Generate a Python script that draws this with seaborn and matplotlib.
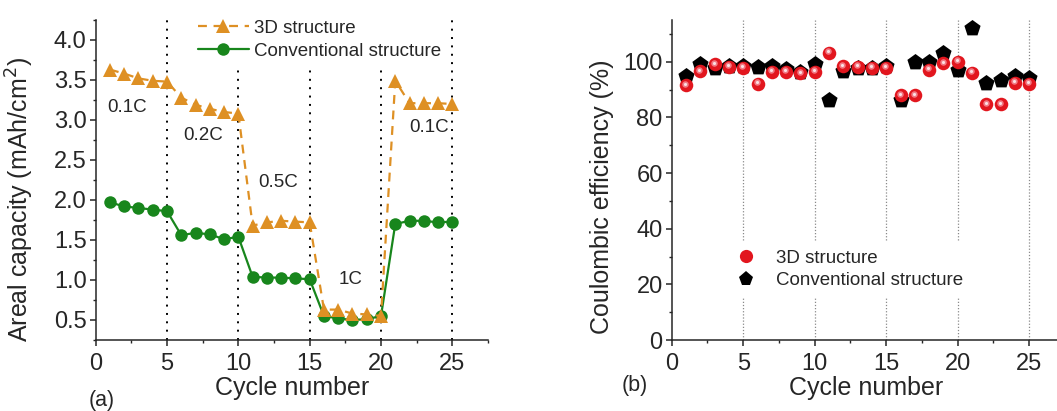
import numpy as np
import pandas as pd
import matplotlib
matplotlib.use("Agg")
import matplotlib.pyplot as plt
import matplotlib.transforms as mtransforms
from matplotlib.lines import Line2D
import seaborn as sns

# ---- data ----
cycles = [1, 2, 3, 4, 5, 6, 7, 8, 9, 10, 11, 12, 13, 14, 15,
          16, 17, 18, 19, 20, 21, 22, 23, 24, 25]

# areal capacity (mAh/cm^2)
cap_3d = [3.63, 3.58, 3.52, 3.49, 3.48, 3.28, 3.19, 3.14, 3.10, 3.08,
          1.68, 1.72, 1.74, 1.73, 1.72, 0.63, 0.63, 0.58, 0.57, 0.55,
          3.49, 3.21, 3.21, 3.21, 3.20]
cap_conv = [1.97, 1.92, 1.90, 1.88, 1.86, 1.56, 1.59, 1.57, 1.51, 1.54,
            1.04, 1.03, 1.03, 1.02, 1.01, 0.55, 0.52, 0.50, 0.51, 0.55,
            1.70, 1.74, 1.74, 1.72, 1.73]

# coulombic efficiency (%)
ce_3d = [91.5, 96.7, 99.2, 98.2, 97.9, 92.1, 96.4, 96.4, 95.8, 96.4,
         103.3, 98.5, 98.2, 97.9, 97.9, 87.9, 87.9, 97.2, 99.4, 100.0,
         96.0, 84.8, 84.8, 92.4, 92.1]
ce_conv = [94.8, 99.2, 97.9, 98.4, 98.4, 98.2, 98.5, 97.3, 96.4, 99.2,
           86.4, 96.7, 97.6, 97.8, 98.4, 86.4, 99.8, 99.8, 103.0, 97.2,
           112.1, 92.4, 93.3, 94.8, 94.3]

rate_labels = ["0.1C", "0.2C", "0.5C", "1C", "0.1C"]
rate_label_x = [2.2, 7.5, 12.8, 17.9, 23.4]
rate_label_y = [3.16, 2.80, 2.22, 1.00, 2.90]
rate_bounds = [5, 10, 15, 20, 25]

series_names = ["3D structure", "Conventional structure"]

df = pd.DataFrame({
    "cycle": cycles * 2,
    "capacity": cap_3d + cap_conv,
    "ce": ce_3d + ce_conv,
    "sample": [series_names[0]] * len(cycles) + [series_names[1]] * len(cycles),
})
d3 = df[df["sample"] == series_names[0]]
dc = df[df["sample"] == series_names[1]]

# ---- style ----
sns.set_style("ticks")
plt.rcParams["font.family"] = ["Liberation Sans", "DejaVu Sans"]
plt.rcParams["axes.linewidth"] = 1.1
plt.rcParams["xtick.major.width"] = 1.1
plt.rcParams["ytick.major.width"] = 1.1
plt.rcParams["xtick.minor.width"] = 1.0
plt.rcParams["ytick.minor.width"] = 1.0
plt.rcParams["xtick.major.size"] = 4
plt.rcParams["ytick.major.size"] = 4
plt.rcParams["xtick.minor.size"] = 2.5
plt.rcParams["ytick.minor.size"] = 2.5

ORANGE = "#DE9024"
GREEN = "#18861C"
RED = "#E2161E"

TICK_FS = 17
LABEL_FS = 18
LEG_FS = 13.5

W, H = 1057, 411
fig = plt.figure(figsize=(W / 100, H / 100), dpi=100)

def px_axes(x0, x1, y0, y1):
    return fig.add_axes([x0 / W, 1 - y1 / H, (x1 - x0) / W, (y1 - y0) / H])

# ================= (a) areal capacity =================
ax1 = px_axes(95.7, 488, 20, 340)
for xb in rate_bounds:
    ax1.axvline(xb, color="black", lw=1.4, ls=(0, (1, 3.3)), zorder=1)

sns.lineplot(data=dc, x="cycle", y="capacity", ax=ax1, color=GREEN, lw=1.6,
             marker="o", markersize=9, markeredgewidth=0, zorder=3, legend=False)
sns.lineplot(data=d3, x="cycle", y="capacity", ax=ax1, color=ORANGE, lw=1.6,
             marker="^", markersize=10, markeredgewidth=0,
             zorder=4, legend=False)
ax1.lines[-1].set_linestyle((0, (4, 3)))

for t, x, y in zip(rate_labels, rate_label_x, rate_label_y):
    ax1.text(x, y, t, fontsize=LEG_FS, ha="center", va="center", zorder=5)

ax1.set_xlim(0, 27.5)
ax1.set_ylim(0.25, 4.25)
ax1.set_xticks([0, 5, 10, 15, 20, 25])
ax1.set_xticks(np.arange(0, 27.6, 2.5), minor=True)
ax1.set_yticks(np.arange(0.5, 4.01, 0.5))
ax1.set_yticks(np.arange(0.25, 4.26, 0.25), minor=True)
ax1.yaxis.set_major_formatter(matplotlib.ticker.FormatStrFormatter("%.1f"))
ax1.tick_params(labelsize=TICK_FS, direction="out")
ax1.tick_params(axis="x", pad=5)
ax1.tick_params(axis="y", pad=2.5)
ax1.set_xlabel("Cycle number", fontsize=LABEL_FS)
ax1.set_ylabel("Areal capacity (mAh/cm$^2$)", fontsize=LABEL_FS)
ax1.xaxis.set_label_coords(0.5, -0.113)
ax1.yaxis.set_label_coords(-0.152, 0.44)
sns.despine(ax=ax1)

leg1_handles = [
    Line2D([], [], color=ORANGE, lw=1.6, ls=(0, (4, 3)), marker="^",
           markersize=10, markeredgewidth=0),
    Line2D([], [], color=GREEN, lw=1.6, marker="o", markersize=9,
           markeredgewidth=0),
]
leg1 = ax1.legend(leg1_handles, series_names, loc="upper left",
                  bbox_to_anchor=(190.6 / W, 1 - 12 / H),
                  bbox_transform=fig.transFigure, fontsize=LEG_FS,
                  frameon=True, framealpha=1, facecolor="white",
                  edgecolor="none", fancybox=False, borderpad=0.4,
                  borderaxespad=0, handlelength=2.7, handletextpad=0.3,
                  labelspacing=0.32)
leg1.set_zorder(6)

fig.text(102 / W, 1 - 400 / H, "(a)", fontsize=15.5, ha="center", va="center")

# ================= (b) coulombic efficiency =================
ax2 = px_axes(671.7, 1065, 20, 340)
for xb in rate_bounds:
    ax2.axvline(xb, color="#8a8a8a", lw=0.9, ls=(0, (1, 1.5)), zorder=1)

sns.scatterplot(data=dc, x="cycle", y="ce", ax=ax2, color="black",
                marker="p", s=150, linewidth=0, zorder=3, legend=False)
sns.scatterplot(data=d3, x="cycle", y="ce", ax=ax2, color=RED,
                marker="o", s=95, linewidth=0, zorder=4, legend=False)
# glossy highlight on the red spheres
shine = mtransforms.offset_copy(ax2.transData, fig=fig, x=-0.6, y=1.0,
                                units="points")
ax2.scatter(d3["cycle"], d3["ce"], s=22, color="#f27a84", linewidth=0,
            transform=shine, zorder=5)
ax2.scatter(d3["cycle"], d3["ce"], s=5, color="#fbe0e3", linewidth=0,
            transform=shine, zorder=6)

ax2.set_xlim(0, 27.5)
ax2.set_ylim(0, 115)
ax2.set_xticks([0, 5, 10, 15, 20, 25])
ax2.set_xticks(np.arange(0, 27.6, 2.5), minor=True)
ax2.set_yticks(np.arange(0, 101, 20))
ax2.set_yticks(np.arange(0, 111, 10), minor=True)
ax2.tick_params(labelsize=TICK_FS, direction="out")
ax2.tick_params(axis="x", pad=5)
ax2.tick_params(axis="y", pad=2.5)
ax2.set_xlabel("Cycle number", fontsize=LABEL_FS)
ax2.set_ylabel("Coulombic efficiency (%)", fontsize=LABEL_FS)
ax2.xaxis.set_label_coords(0.494, -0.113)
ax2.yaxis.set_label_coords(-0.147, 0.447)
sns.despine(ax=ax2)

leg2_handles = [
    Line2D([], [], ls="none", marker="o", color=RED, markersize=9.5,
           markeredgewidth=0),
    Line2D([], [], ls="none", marker="p", color="black", markersize=11,
           markeredgewidth=0),
]
leg2 = ax2.legend(leg2_handles, series_names, loc="upper left",
                  bbox_to_anchor=(729.6 / W, 1 - 242 / H),
                  bbox_transform=fig.transFigure, fontsize=LEG_FS,
                  frameon=True, framealpha=1, facecolor="white",
                  edgecolor="none", fancybox=False, borderpad=0.4,
                  borderaxespad=0, handlelength=1.0, handletextpad=1.1,
                  labelspacing=0.3)
leg2.set_zorder(6)

fig.text(635 / W, 1 - 385 / H, "(b)", fontsize=15.5, ha="center", va="center")

fig.savefig("out.png", dpi=100)
